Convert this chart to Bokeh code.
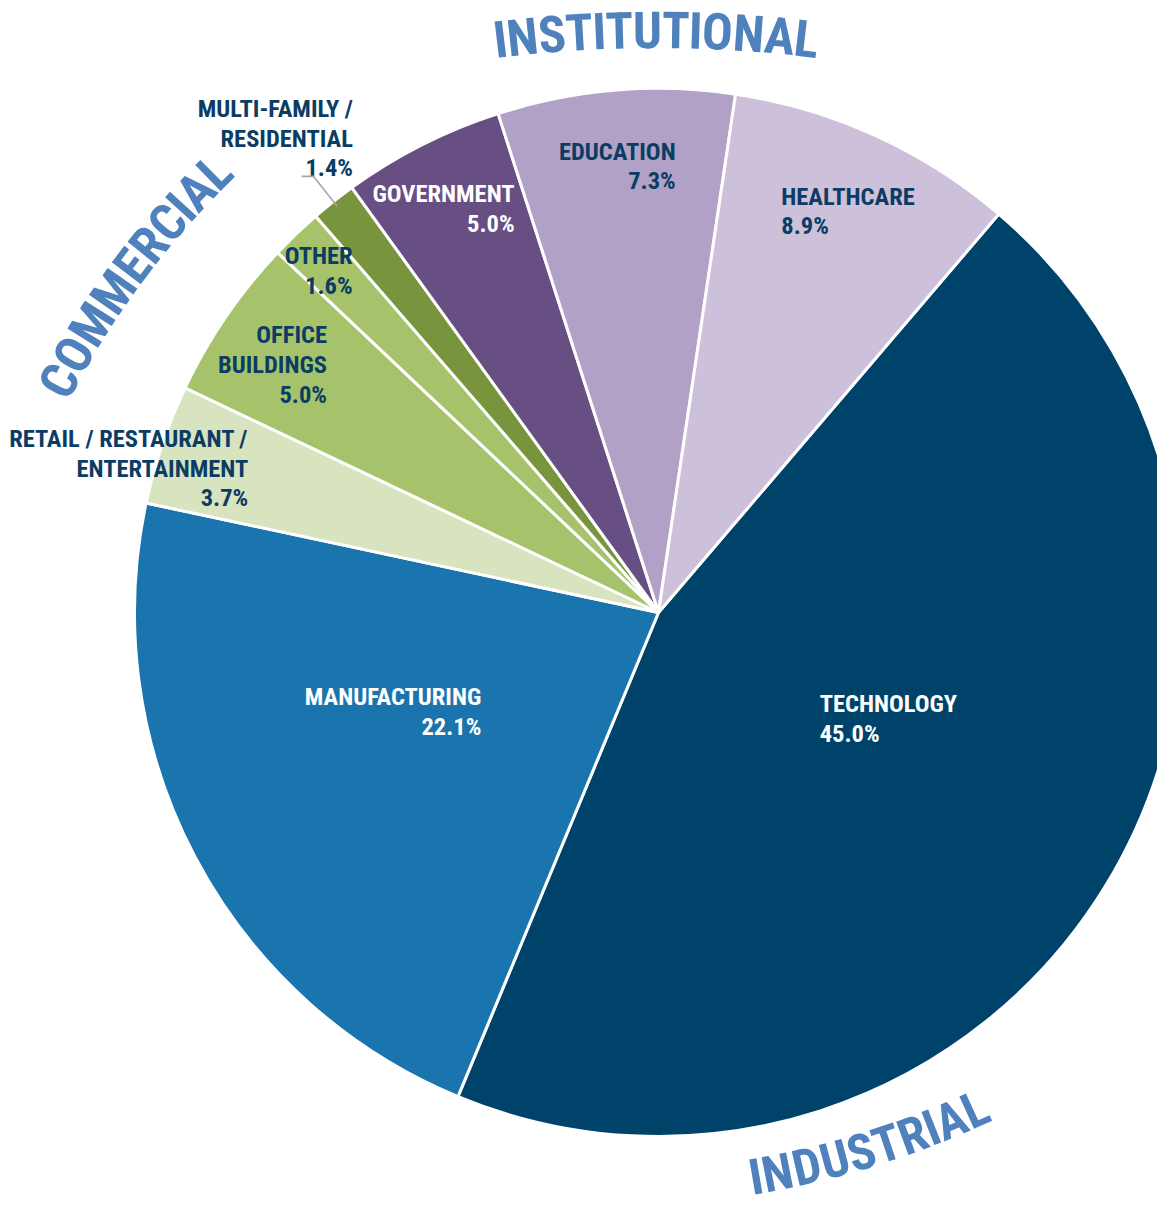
import numpy as np
from bokeh.plotting import figure
from bokeh.models import Range1d, ColumnDataSource
from bokeh.core.properties import value
from bokeh.embed import file_html
from bokeh.resources import INLINE

# ---------------- data ----------------
sectors = ["TECHNOLOGY", "MANUFACTURING", "RETAIL / RESTAURANT /\nENTERTAINMENT",
           "OFFICE\nBUILDINGS", "OTHER", "MULTI-FAMILY /\nRESIDENTIAL",
           "GOVERNMENT", "EDUCATION", "HEALTHCARE"]
shares = [45.0, 22.1, 3.7, 5.0, 1.6, 1.4, 5.0, 7.3, 8.9]
colors = ["#00436a", "#1a74ad", "#d8e4bf", "#a6c36b", "#a6c36b",
          "#78943c", "#674f84", "#b1a1c7", "#ccc0da"]
groups = ["INSTITUTIONAL", "COMMERCIAL", "INDUSTRIAL"]

# ---------------- layout ----------------
FIG_W, FIG_H = 1157, 1210
H_REF = 1226
CX, CY = 658, H_REF - 612     # pie centre (data coords, y up)
R = 524
START_CW = 40.5                 # first slice starts 40.5 deg clockwise from 12 o'clock
DARK = "#0b3c64"
WHITE = "#ffffff"
GROUP_COLOR = "#4f81bd"
FONT = "Roboto Condensed"
LABEL_SIZE = 24.5

# label placement: (math angle deg, radius px, align, colour)
label_layout = [
    (-33.4, 193, "left", WHITE),
    (209.2, 203, "right", WHITE),
    (160.6, 435, "right", DARK),
    (143.2, 414, "right", DARK),
    (131.8, 459, "right", DARK),
    (122.8, 564, "right", DARK),
    (109.6, 429, "right", WHITE),
    (87.8, 447, "right", DARK),
    (73.0, 420, "left", DARK),
]

# curved group titles: (mid point px, tangent deg, arc radius, kind, font px)
group_layout = [
    ((656, 30), 0.0, 1300, "top", 51),
    ((128, 271), 53.4, 850, "top", 51),
    ((870, 1149), 17.3, 900, "bottom", 50),
]

p = figure(width=FIG_W, height=FIG_H, output_backend="svg", toolbar_location=None,
           x_range=Range1d(0, FIG_W), y_range=Range1d(H_REF - FIG_H, H_REF),
           min_border=0, outline_line_color=None, background_fill_color="white")
p.axis.visible = False
p.grid.visible = False

# wedges
vals = np.array(shares)
cum = np.concatenate([[0], np.cumsum(vals)[:-1]])
start = np.radians(90 - START_CW - cum * 3.6)
end = np.radians(90 - START_CW - (cum + vals) * 3.6)
mid = (start + end) / 2
src = ColumnDataSource(dict(start=start, end=end, color=colors))
p.wedge(x=CX, y=CY, radius=R, start_angle="start", end_angle="end", direction="clock",
        fill_color="color", line_color="white", line_width=3, source=src)

# slice labels
for name, share, (ang, rad, align, col) in zip(sectors, shares, label_layout):
    a = np.radians(ang)
    p.text(x=[CX + rad * np.cos(a)], y=[CY + rad * np.sin(a)],
           text=[f"{name}\n{share:.1f}%"], text_align=align, text_baseline="middle",
           text_font=value(FONT), text_font_style="bold", text_font_size=f"{LABEL_SIZE}px",
           text_line_height=1.02, text_color=col)

# leader line for the small multi-family slice
mf = sectors.index("MULTI-FAMILY /\nRESIDENTIAL")
am = mid[mf]
x0, y0 = CX + (R - 6) * np.cos(am), CY + (R - 6) * np.sin(am)
x1, y1 = CX + (R + 32) * np.cos(am), CY + (R + 32) * np.sin(am)
p.line(x=[x0, x1, x1 - 12], y=[y0, y1, y1], line_color="#a6a6a6", line_width=1.6)

# curved group titles
WID = dict(I=.28, N=.71, S=.61, T=.61, U=.65, O=.69, A=.67, L=.54, C=.65, M=.87,
           E=.57, R=.63, D=.66)

def arc_text(word, mid_px, phi_deg, r, kind, size):
    w = np.array([WID[c] * size * 0.88 for c in word])
    tot = w.sum()
    s = np.cumsum(w) - w / 2 - tot / 2
    m = np.array([mid_px[0], H_REF - mid_px[1]], dtype=float)
    phi = np.radians(phi_deg)
    n = np.array([-np.sin(phi), np.cos(phi)])
    if kind == "top":
        c = m - r * n
        th = phi + np.pi / 2 - s / r
        rot = th - np.pi / 2
    else:
        c = m + r * n
        th = phi - np.pi / 2 + s / r
        rot = th + np.pi / 2
    xs = c[0] + r * np.cos(th)
    ys = c[1] + r * np.sin(th)
    p.text(x=list(xs), y=list(ys), text=list(word), angle=list(rot),
           text_align="center", text_baseline="middle",
           text_font=value(FONT), text_font_style="bold", text_font_size=f"{size}px",
           text_color=GROUP_COLOR)

for g, (mpx, phi, r, kind, size) in zip(groups, group_layout):
    arc_text(g, mpx, phi, r, kind, size)

open("out.html", "w").write(file_html(p, INLINE))
